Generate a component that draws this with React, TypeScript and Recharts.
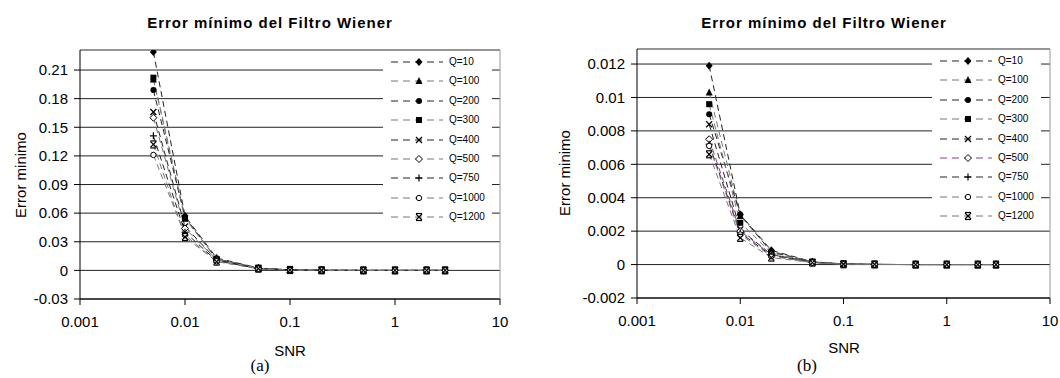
import React from 'react';
import { LineChart, Line, XAxis, YAxis, CartesianGrid, ReferenceLine } from 'recharts';

// SNR values where every curve was sampled
const snr = [0.005, 0.01, 0.02, 0.05, 0.1, 0.2, 0.5, 1, 2, 3];
const qLabels = ['Q=10', 'Q=100', 'Q=200', 'Q=300', 'Q=400', 'Q=500', 'Q=750', 'Q=1000', 'Q=1200'];
const xTicks = [0.001, 0.01, 0.1, 1, 10];

// (a) error values
const a10 = [0.229, 0.057, 0.013, 0.0025, 0.0006, 0.0001, 0, 0, 0, 0];
const a100 = [0.2, 0.054, 0.012, 0.0023, 0.0005, 0.0001, 0, 0, 0, 0];
const a200 = [0.189, 0.056, 0.012, 0.0022, 0.0005, 0.0001, 0, 0, 0, 0];
const a300 = [0.202, 0.055, 0.012, 0.0022, 0.0005, 0.0001, 0, 0, 0, 0];
const a400 = [0.166, 0.046, 0.011, 0.002, 0.0004, 0.0001, 0, 0, 0, 0];
const a500 = [0.16, 0.044, 0.011, 0.002, 0.0004, 0.0001, 0, 0, 0, 0];
const a750 = [0.141, 0.04, 0.01, 0.0019, 0.0004, 0.0001, 0, 0, 0, 0];
const a1000 = [0.121, 0.037, 0.0095, 0.0018, 0.0004, 0.0001, 0, 0, 0, 0];
const a1200 = [0.132, 0.035, 0.0092, 0.0018, 0.0004, 0.0001, 0, 0, 0, 0];
const yTicksA = [-0.03, 0, 0.03, 0.06, 0.09, 0.12, 0.15, 0.18, 0.21];

// (b) error values
const b10 = [0.0119, 0.003, 0.00085, 0.00017, 0.00004, 0.00001, 0, 0, 0, 0];
const b100 = [0.0103, 0.0029, 0.0008, 0.00016, 0.00004, 0.00001, 0, 0, 0, 0];
const b200 = [0.009, 0.003, 0.00075, 0.00015, 0.00003, 0.00001, 0, 0, 0, 0];
const b300 = [0.0096, 0.0025, 0.0007, 0.00015, 0.00003, 0.00001, 0, 0, 0, 0];
const b400 = [0.0084, 0.0021, 0.0006, 0.00014, 0.00003, 0.00001, 0, 0, 0, 0];
const b500 = [0.0075, 0.002, 0.0006, 0.00013, 0.00003, 0.00001, 0, 0, 0, 0];
const b750 = [0.0072, 0.0019, 0.00055, 0.00013, 0.00003, 0.00001, 0, 0, 0, 0];
const b1000 = [0.0071, 0.0018, 0.0005, 0.00012, 0.00002, 0.00001, 0, 0, 0, 0];
const b1200 = [0.0066, 0.0016, 0.00042, 0.00012, 0.00002, 0.00001, 0, 0, 0, 0];
const yTicksB = [-0.002, 0, 0.002, 0.004, 0.006, 0.008, 0.01, 0.012];

const markers = ['diamond', 'triangle', 'circle', 'square', 'x', 'openDiamond', 'plus', 'openCircle', 'star'];
const colorsA = ['#222', '#777', '#222', '#777', '#222', '#777', '#222', '#777', '#777'];
const colorsB = ['#222', '#777', '#222', '#777', '#222', '#8a3a8a', '#222', '#777', '#777'];

const font = '"Liberation Sans", Arial, sans-serif';

function buildRows(series: number[][]) {
    return snr.map((s, i) => {
        const row: any = { snr: s };
        series.forEach((arr, k) => { row[qLabels[k]] = arr[i]; });
        return row;
    });
}

const rowsA = buildRows([a10, a100, a200, a300, a400, a500, a750, a1000, a1200]);
const rowsB = buildRows([b10, b100, b200, b300, b400, b500, b750, b1000, b1200]);

function Marker({ shape, cx, cy }: { shape: string; cx: number; cy: number }) {
    const r = 3.5;
    switch (shape) {
        case 'diamond':
            return <polygon points={`${cx},${cy - r - 0.5} ${cx + r},${cy} ${cx},${cy + r + 0.5} ${cx - r},${cy}`} fill="#000" />;
        case 'triangle':
            return <polygon points={`${cx},${cy - r - 0.5} ${cx + r},${cy + r - 0.5} ${cx - r},${cy + r - 0.5}`} fill="#000" />;
        case 'circle':
            return <circle cx={cx} cy={cy} r={3} fill="#000" />;
        case 'square':
            return <rect x={cx - 3} y={cy - 3} width={6} height={6} fill="#000" />;
        case 'x':
            return (
                <g stroke="#000" strokeWidth={1.2}>
                    <line x1={cx - 3} y1={cy - 3} x2={cx + 3} y2={cy + 3} />
                    <line x1={cx - 3} y1={cy + 3} x2={cx + 3} y2={cy - 3} />
                </g>
            );
        case 'openDiamond':
            return <polygon points={`${cx},${cy - r} ${cx + r},${cy} ${cx},${cy + r} ${cx - r},${cy}`} fill="#fff" stroke="#000" strokeWidth={1} />;
        case 'plus':
            return (
                <g stroke="#000" strokeWidth={1.2}>
                    <line x1={cx - 3.5} y1={cy} x2={cx + 3.5} y2={cy} />
                    <line x1={cx} y1={cy - 3.5} x2={cx} y2={cy + 3.5} />
                </g>
            );
        case 'openCircle':
            return <circle cx={cx} cy={cy} r={2.7} fill="#fff" stroke="#000" strokeWidth={1} />;
        default:
            return (
                <g stroke="#000" strokeWidth={1.2}>
                    <line x1={cx - 3} y1={cy - 3} x2={cx + 3} y2={cy + 3} />
                    <line x1={cx - 3} y1={cy + 3} x2={cx + 3} y2={cy - 3} />
                    <line x1={cx - 3} y1={cy - 3.5} x2={cx + 3} y2={cy - 3.5} />
                    <line x1={cx - 3} y1={cy + 3.5} x2={cx + 3} y2={cy + 3.5} />
                </g>
            );
    }
}

function WienerChart({ rows, yDomain, yTicks, margin, colors }: any) {
    const tickStyle = { fontSize: 15, fill: '#000', fontFamily: font };
    return (
        <LineChart width={530} height={378} data={rows} margin={margin}>
            <CartesianGrid vertical={false} stroke="#222" />
            <XAxis
                dataKey="snr"
                type="number"
                scale="log"
                domain={[0.001, 10]}
                ticks={xTicks}
                interval={0}
                allowDataOverflow
                tickFormatter={(v: number) => String(v)}
                tick={tickStyle}
                tickSize={6}
                tickMargin={11}
                height={40}
                axisLine={{ stroke: '#000' }}
                tickLine={{ stroke: '#000' }}
            />
            <YAxis
                type="number"
                domain={yDomain}
                ticks={yTicks}
                interval={0}
                allowDataOverflow
                tickFormatter={(v: number) => String(v)}
                tick={tickStyle}
                tickSize={6}
                tickMargin={6}
                width={60}
                axisLine={{ stroke: '#000' }}
                tickLine={{ stroke: '#000' }}
            />
            <ReferenceLine y={yDomain[1]} stroke="#999" />
            <ReferenceLine x={10} stroke="#999" />
            {qLabels.map((q, k) => (
                <Line
                    key={q}
                    type="linear"
                    dataKey={q}
                    stroke={colors[k]}
                    strokeWidth={1}
                    strokeDasharray="6 4"
                    dot={(p: any) => <Marker key={`${q}-${p.index}`} shape={markers[k]} cx={p.cx} cy={p.cy} />}
                    activeDot={false}
                    isAnimationActive={false}
                />
            ))}
        </LineChart>
    );
}

function QLegend({ left, top, colors }: any) {
    return (
        <div style={{ position: 'absolute', left, top, width: 109, height: 175, background: '#fff' }}>
            {qLabels.map((q, k) => (
                <div key={q} style={{ position: 'absolute', left: 0, top: 2 + k * 19.4, height: 16, width: 109 }}>
                    <svg width={62} height={16} style={{ position: 'absolute', left: 0, top: 0 }}>
                        <line x1={8} y1={8} x2={60} y2={8} stroke={colors[k]} strokeWidth={1} strokeDasharray="7 5" />
                        <Marker shape={markers[k]} cx={36} cy={8} />
                    </svg>
                    <span style={{ position: 'absolute', left: 66, top: 2, fontSize: 10, fontFamily: font, lineHeight: '12px', whiteSpace: 'nowrap' }}>{q}</span>
                </div>
            ))}
        </div>
    );
}

function Txt({ x, y, children, style }: any) {
    return (
        <div style={{ position: 'absolute', left: x, top: y, transform: 'translate(-50%, -50%)', whiteSpace: 'nowrap', fontFamily: font, ...style }}>
            {children}
        </div>
    );
}

export default function App() {
    return (
        <div style={{ position: 'absolute', left: 0, top: 0, width: 1060, height: 378, background: '#fff', overflow: 'hidden' }}>
            <div style={{ position: 'absolute', left: 0, top: 0 }}>
                <WienerChart rows={rowsA} yDomain={[-0.03, 0.231]} yTicks={yTicksA} colors={colorsA}
                    margin={{ top: 50, right: 30, bottom: 39, left: 20 }} />
            </div>
            <div style={{ position: 'absolute', left: 530, top: 0 }}>
                <WienerChart rows={rowsB} yDomain={[-0.002, 0.0129]} yTicks={yTicksB} colors={colorsB}
                    margin={{ top: 49, right: 10, bottom: 40, left: 47 }} />
            </div>
            <QLegend left={383} top={52} colors={colorsA} />
            <QLegend left={932} top={51} colors={colorsB} />

            <Txt x={270} y={22} style={{ fontSize: 15, fontWeight: 'bold', letterSpacing: 1 }}>Error mínimo del Filtro Wiener</Txt>
            <Txt x={824} y={22} style={{ fontSize: 15, fontWeight: 'bold', letterSpacing: 1 }}>Error mínimo del Filtro Wiener</Txt>
            <Txt x={20} y={175} style={{ fontSize: 15, transform: 'translate(-50%, -50%) rotate(-90deg)' }}>Error minimo</Txt>
            <Txt x={564} y={173} style={{ fontSize: 15, transform: 'translate(-50%, -50%) rotate(-90deg)' }}>Error minimo</Txt>
            <Txt x={290} y={350} style={{ fontSize: 15 }}>SNR</Txt>
            <Txt x={844} y={347} style={{ fontSize: 15 }}>SNR</Txt>
            <Txt x={260} y={366} style={{ fontSize: 17, fontFamily: '"Liberation Serif", "Times New Roman", serif' }}>(a)</Txt>
            <Txt x={807} y={366} style={{ fontSize: 17, fontFamily: '"Liberation Serif", "Times New Roman", serif' }}>(b)</Txt>
        </div>
    );
}
